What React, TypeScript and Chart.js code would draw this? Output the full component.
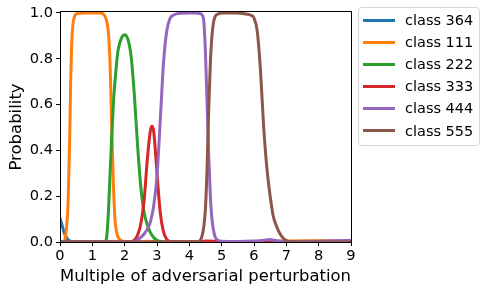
import React, { useEffect, useRef } from "react";
import { Chart, registerables } from "chart.js";

Chart.register(...registerables);

const FONT = "DejaVu Sans";

const SERIES_NAMES = ["class 364", "class 111", "class 222", "class 333", "class 444", "class 555"];
const SERIES_COLORS = ["#1f77b4", "#ff7f0e", "#2ca02c", "#d62728", "#9467bd", "#8c564b"];

const X_TICKS = [0, 1, 2, 3, 4, 5, 6, 7, 8, 9];
const Y_TICKS = [0, 0.2, 0.4, 0.6, 0.8, 1.0];

// class 364
const C364_X = [0, 0.05, 0.1, 0.15, 0.2, 0.25, 0.3, 0.4, 0.5, 1, 2, 3, 4, 5, 6, 7, 8, 9];
const C364_Y = [0.105, 0.08, 0.055, 0.033, 0.019, 0.01, 0.005, 0.001, 0, 0, 0, 0, 0, 0, 0, 0, 0, 0];

// class 111
const C111_X = [0, 0.1, 0.15, 0.2, 0.25, 0.3, 0.33, 0.36, 0.4, 0.45, 0.5, 0.6, 0.8, 1.0, 1.2, 1.3, 1.35, 1.4, 1.45, 1.5, 1.55, 1.6, 1.65, 1.7, 1.75, 1.8, 1.9, 2.0, 2.5, 2.7, 3.0, 4, 5, 6, 7, 7.5, 8, 8.5, 9];
const C111_Y = [0, 0, 0.01, 0.06, 0.17, 0.45, 0.7, 0.86, 0.95, 0.985, 0.995, 0.999, 1, 1, 1, 0.998, 0.993, 0.983, 0.96, 0.91, 0.77, 0.5, 0.26, 0.1, 0.045, 0.02, 0.006, 0.002, 0.001, 0.003, 0.001, 0, 0, 0.001, 0.004, 0.006, 0.006, 0.005, 0.004];

// class 222
const C222_X = [0, 1.3, 1.4, 1.45, 1.5, 1.55, 1.6, 1.65, 1.7, 1.75, 1.8, 1.9, 2.0, 2.1, 2.2, 2.3, 2.4, 2.5, 2.6, 2.7, 2.8, 2.9, 3.0, 3.1, 3.2, 4, 5, 6, 7, 8, 9];
const C222_Y = [0, 0, 0.003, 0.03, 0.14, 0.3, 0.46, 0.6, 0.7, 0.78, 0.84, 0.89, 0.905, 0.885, 0.81, 0.64, 0.42, 0.24, 0.13, 0.075, 0.04, 0.02, 0.008, 0.003, 0, 0, 0, 0, 0, 0, 0];

// class 333
const C333_X = [0, 2.1, 2.2, 2.3, 2.4, 2.5, 2.6, 2.7, 2.8, 2.85, 2.9, 3.0, 3.1, 3.2, 3.3, 3.4, 3.5, 4.3, 4.5, 4.8, 5, 9];
const C333_Y = [0, 0, 0.002, 0.008, 0.03, 0.08, 0.18, 0.36, 0.49, 0.505, 0.48, 0.3, 0.13, 0.045, 0.012, 0.003, 0, 0, 0.004, 0.003, 0, 0];

// class 444
const C444_X = [0, 2.2, 2.3, 2.4, 2.5, 2.6, 2.7, 2.8, 2.9, 3.0, 3.05, 3.1, 3.15, 3.2, 3.3, 3.4, 3.5, 3.6, 3.8, 4.0, 4.2, 4.3, 4.4, 4.45, 4.5, 4.55, 4.6, 4.65, 4.7, 4.75, 4.8, 4.9, 5.0, 5.5, 6.0, 6.3, 6.5, 6.7, 7.0, 8.0, 8.5, 9.0];
const C444_Y = [0, 0, 0.003, 0.01, 0.02, 0.035, 0.055, 0.09, 0.16, 0.29, 0.4, 0.53, 0.66, 0.78, 0.92, 0.975, 0.99, 0.996, 0.999, 1, 1, 0.998, 0.99, 0.96, 0.82, 0.6, 0.38, 0.2, 0.1, 0.05, 0.022, 0.007, 0.003, 0.002, 0.004, 0.008, 0.011, 0.006, 0.002, 0.003, 0.005, 0.008];

// class 555
const C555_X = [0, 4.2, 4.3, 4.35, 4.4, 4.45, 4.5, 4.55, 4.6, 4.65, 4.7, 4.75, 4.8, 4.9, 5.0, 5.5, 5.7, 5.9, 6.0, 6.1, 6.2, 6.3, 6.4, 6.5, 6.6, 6.7, 6.8, 6.9, 7.0, 7.1, 7.5, 9];
const C555_Y = [0, 0, 0.003, 0.01, 0.03, 0.07, 0.15, 0.33, 0.58, 0.78, 0.9, 0.96, 0.985, 0.996, 1, 1, 0.996, 0.99, 0.978, 0.92, 0.75, 0.5, 0.32, 0.2, 0.11, 0.068, 0.037, 0.017, 0.006, 0.002, 0, 0];

const SERIES_X = [C364_X, C111_X, C222_X, C333_X, C444_X, C555_X];
const SERIES_Y = [C364_Y, C111_Y, C222_Y, C333_Y, C444_Y, C555_Y];

const frame = {
  id: "frame",
  afterDatasetsDraw(chart: any) {
    const { ctx, chartArea } = chart;
    ctx.save();
    ctx.strokeStyle = "#000";
    ctx.lineWidth = 1;
    const l = Math.round(chartArea.left) + 0.5;
    const r = Math.round(chartArea.right) + 0.5;
    const t = Math.round(chartArea.top) - 0.5;
    const b = Math.round(chartArea.bottom) + 0.5;
    ctx.strokeRect(l, t, r - l, b - t);
    ctx.restore();
  },
};

export default function App() {
  const ref = useRef<HTMLCanvasElement>(null);

  useEffect(() => {
    const n = SERIES_NAMES.length;
    const chart = new Chart(ref.current as HTMLCanvasElement, {
      type: "line",
      data: {
        datasets: SERIES_NAMES.map((name, i) => ({
          label: name,
          data: SERIES_X[i].map((x, j) => ({ x, y: SERIES_Y[i][j] })),
          borderColor: SERIES_COLORS[i],
          backgroundColor: SERIES_COLORS[i],
          borderWidth: 3,
          pointRadius: 0,
          fill: false,
          cubicInterpolationMode: "monotone",
          clip: 0,
          order: n - 1 - i,
        })),
      },
      options: {
        responsive: false,
        animation: false,
        devicePixelRatio: 1,
        events: [],
        layout: { padding: { left: 0, right: 136, top: 12, bottom: 0 } },
        plugins: { legend: { display: false }, tooltip: { enabled: false } },
        scales: {
          x: {
            type: "linear",
            min: 0,
            max: 9,
            afterBuildTicks: (s: any) => {
              s.ticks = X_TICKS.map((v) => ({ value: v }));
            },
            afterFit: (s: any) => {
              s.height = 52;
            },
            ticks: {
              color: "#000",
              padding: 1,
              font: { family: FONT, size: 14.6 },
              callback: (v: any) => String(v),
            },
            grid: { display: true, drawOnChartArea: false, drawTicks: true, tickLength: 4, color: "#000" },
            border: { display: false },
            title: {
              display: true,
              text: "Multiple of adversarial perturbation",
              color: "#000",
              font: { family: FONT, size: 16.5 },
              padding: { top: 0, bottom: 7 },
            },
          },
          y: {
            type: "linear",
            min: 0,
            max: 1.004,
            afterBuildTicks: (s: any) => {
              s.ticks = Y_TICKS.map((v) => ({ value: v }));
            },
            afterFit: (s: any) => {
              s.width = 60;
            },
            ticks: {
              color: "#000",
              padding: 3,
              font: { family: FONT, size: 14.6 },
              callback: (v: any) => Number(v).toFixed(1),
            },
            grid: { display: true, drawOnChartArea: false, drawTicks: true, tickLength: 4, color: "#000" },
            border: { display: false },
            title: {
              display: true,
              text: "Probability",
              color: "#000",
              font: { family: FONT, size: 16.5 },
              padding: { top: 7, bottom: 0 },
            },
          },
        },
      },
      plugins: [frame],
    } as any);
    return () => chart.destroy();
  }, []);

  const rowCenters = SERIES_NAMES.map((_, i) => 20 + i * 22.1);

  return (
    <div
      style={{
        position: "absolute",
        left: 0,
        top: 0,
        width: 487,
        height: 294,
        background: "#fff",
        fontFamily: FONT,
        overflow: "hidden",
      }}
    >
      <canvas
        ref={ref}
        width={487}
        height={294}
        style={{ position: "absolute", left: 0, top: 0, width: 487, height: 294 }}
      />
      <div
        style={{
          position: "absolute",
          left: 358,
          top: 7,
          width: 122,
          height: 139,
          boxSizing: "border-box",
          border: "1px solid #d6d6d6",
          borderRadius: 4,
          background: "rgba(255,255,255,0.8)",
        }}
      />
      {SERIES_NAMES.map((name, i) => (
        <React.Fragment key={name}>
          <div
            style={{
              position: "absolute",
              left: 363,
              top: rowCenters[i] - 1.5,
              width: 32,
              height: 3,
              background: SERIES_COLORS[i],
            }}
          />
          <div
            style={{
              position: "absolute",
              left: 405,
              top: rowCenters[i] - 10,
              height: 20,
              lineHeight: "20px",
              fontSize: 14.5,
              color: "#000",
              whiteSpace: "nowrap",
            }}
          >
            {name}
          </div>
        </React.Fragment>
      ))}
    </div>
  );
}
